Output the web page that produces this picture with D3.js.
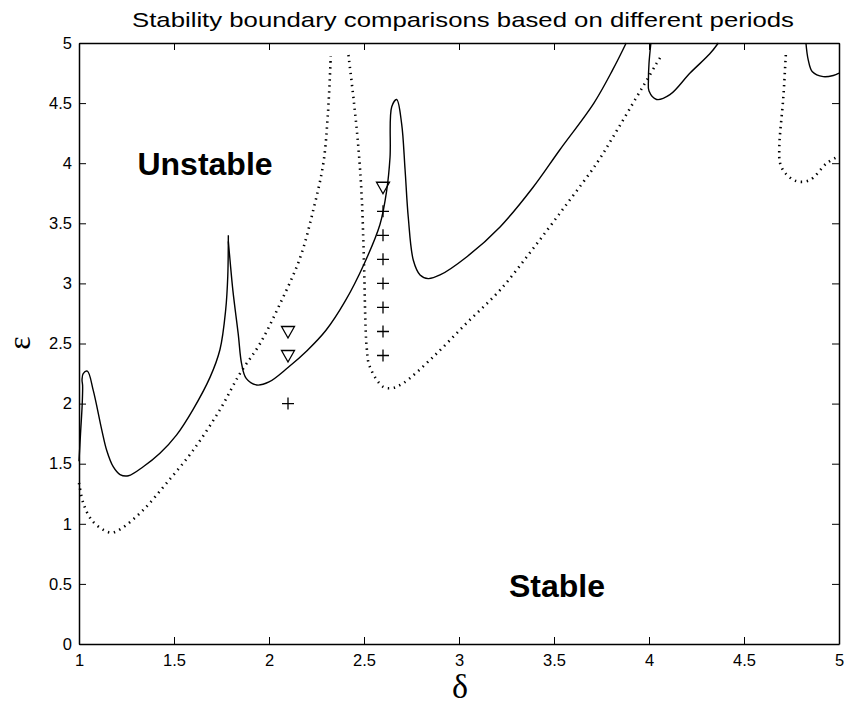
<!DOCTYPE html>
<meta charset="utf-8">
<script src="https://d3js.org/d3.v7.min.js"></script>
<style>
  body { margin: 0; background: #fff; }
  text { font-family: "Liberation Sans", Arial, sans-serif; }
</style>
<svg id="chart" width="844" height="704"></svg>
<script>
// solid boundary pieces (delta, epsilon)
const solidA = [[1.0,1.52],[1.008,1.75],[1.017,2.0],[1.019,2.15],[1.016,2.2],[1.022,2.25],[1.044,2.27],[1.075,2.11],[1.12,1.78],[1.146,1.61],[1.18,1.475],[1.216,1.41],[1.26,1.40],[1.338,1.475],[1.426,1.587],[1.514,1.74],[1.60,1.95],[1.69,2.22],[1.742,2.45],[1.772,2.78],[1.783,3.06],[1.786,3.40]];
const solidB = [[1.786,3.35],[1.795,3.19],[1.81,2.94],[1.838,2.58],[1.856,2.33],[1.88,2.21],[1.935,2.155],[2.0,2.18],[2.1,2.30],[2.2,2.44],[2.3,2.61],[2.4,2.85],[2.5,3.16],[2.584,3.49],[2.62,3.78],[2.637,4.05],[2.646,4.47],[2.672,4.53],[2.698,4.33],[2.716,3.95],[2.733,3.55],[2.76,3.19],[2.795,3.07],[2.838,3.04],[2.90,3.07],[3.04,3.22],[3.216,3.47],[3.39,3.80],[3.53,4.11],[3.71,4.50],[3.81,4.78],[3.88,5.0]];
const solidC = [[4.01,5.0],[4.0,4.83],[3.997,4.69],[4.0,4.6],[4.04,4.53],[4.11,4.57],[4.216,4.75],[4.32,4.91],[4.365,5.0]];
const solidD = [[4.826,5.0],[4.838,4.86],[4.86,4.76],[4.917,4.72],[4.97,4.73],[5.0,4.75]];

// dotted boundary pieces
const dotA = [[1.0,1.34],[1.023,1.17],[1.067,1.03],[1.128,0.95],[1.172,0.926],[1.225,0.963],[1.338,1.115],[1.46,1.337],[1.60,1.61],[1.742,1.95],[1.847,2.25],[1.953,2.50],[2.058,2.83],[2.163,3.21],[2.233,3.61],[2.286,4.0],[2.31,4.41],[2.325,4.89]];
const dotB = [[2.418,4.9],[2.444,4.55],[2.47,4.14],[2.488,3.72],[2.50,3.17],[2.514,2.47],[2.53,2.31],[2.60,2.14],[2.65,2.13],[2.707,2.17],[2.865,2.39],[3.04,2.67],[3.216,2.945],[3.39,3.29],[3.567,3.66],[3.725,4.0],[3.83,4.27],[3.935,4.55],[3.988,4.69],[4.04,4.83],[4.067,4.9]];
const dotC = [[4.72,4.9],[4.707,4.55],[4.686,4.14],[4.69,4.0],[4.716,3.92],[4.777,3.85],[4.847,3.86],[4.935,4.0],[4.988,4.05]];

// test points
const triPts = [[2.1,2.6],[2.1,2.4],[2.6,3.8]];
const plusPts = [[2.1,2.0],[2.6,3.6],[2.6,3.4],[2.6,3.2],[2.6,3.0],[2.6,2.8],[2.6,2.6],[2.6,2.4]];

const xTicks = [1,1.5,2,2.5,3,3.5,4,4.5,5];
const yTicks = [0,0.5,1,1.5,2,2.5,3,3.5,4,4.5,5];

const svg = d3.select('#chart');
const mLeft = 79, mRight = 839, mTop = 43, mBottom = 644;

const x = d3.scaleLinear().domain([1,5]).range([mLeft,mRight]);
const y = d3.scaleLinear().domain([0,5]).range([mBottom,mTop]);

const line = d3.line()
    .x(d => x(d[0]))
    .y(d => y(d[1]))
    .curve(d3.curveCatmullRom.alpha(0.5));

const g = svg.append("g");

// solid curves
[solidA, solidB, solidC, solidD].forEach(s => {
  g.append("path")
    .attr("d", line(s))
    .attr("fill", "none")
    .attr("stroke", "#000")
    .attr("stroke-width", 1.4);
});

// dotted curves
[dotA, dotB, dotC].forEach(s => {
  g.append("path")
    .attr("d", line(s))
    .attr("fill", "none")
    .attr("stroke", "#000")
    .attr("stroke-width", 2.6)
    .attr("stroke-dasharray", "1.4,4.6");
});

// markers
g.selectAll(".tri")
  .data(triPts)
  .join("path")
    .attr("class", "tri")
    .attr("transform", d => `translate(${x(d[0])},${y(d[1])})`)
    .attr("d", "M-6.5,-5 L6.5,-5 L0,6.5 Z")
    .attr("fill", "none")
    .attr("stroke", "#000")
    .attr("stroke-width", 1.3);

g.selectAll(".plus")
  .data(plusPts)
  .join("path")
    .attr("class", "plus")
    .attr("transform", d => `translate(${x(d[0])},${y(d[1])})`)
    .attr("d", "M-6,0 L6,0 M0,-6 L0,6")
    .attr("fill", "none")
    .attr("stroke", "#000")
    .attr("stroke-width", 1.3);

// axes, MATLAB style box with inward ticks
const fmt = d => String(d);
const ax = svg.append("g").attr("class", "axes");

ax.append("g")
  .attr("transform", `translate(0,${mBottom})`)
  .call(d3.axisBottom(x).tickValues(xTicks).tickFormat(fmt).tickSize(-7).tickSizeOuter(0).tickPadding(10));
ax.append("g")
  .attr("transform", `translate(0,${mTop})`)
  .call(d3.axisTop(x).tickValues(xTicks).tickFormat("").tickSize(-7).tickSizeOuter(0));
ax.append("g")
  .attr("transform", `translate(${mLeft},0)`)
  .call(d3.axisLeft(y).tickValues(yTicks).tickFormat(fmt).tickSize(-7).tickSizeOuter(0).tickPadding(7));
ax.append("g")
  .attr("transform", `translate(${mRight},0)`)
  .call(d3.axisRight(y).tickValues(yTicks).tickFormat("").tickSize(-7).tickSizeOuter(0));

ax.selectAll("path.domain").attr("stroke", "#000").attr("stroke-width", 1.5);
ax.selectAll(".tick line").attr("stroke", "#000").attr("stroke-width", 1);
ax.selectAll(".tick text")
  .attr("fill", "#000")
  .style("font-size", "16.5px")
  .style("font-family", "'Liberation Sans', Arial, sans-serif");

// title and axis labels
svg.append("text")
  .attr("x", 463).attr("y", 27)
  .attr("text-anchor", "middle")
  .attr("textLength", 662)
  .attr("lengthAdjust", "spacingAndGlyphs")
  .style("font-size", "21px")
  .text("Stability boundary comparisons based on different periods");

svg.append("text")
  .attr("x", 460).attr("y", 698)
  .attr("text-anchor", "middle")
  .style("font-family", "'Liberation Serif', 'DejaVu Serif', serif")
  .style("font-size", "34px")
  .text("δ");

svg.append("text")
  .attr("transform", "translate(30,343) rotate(-90)")
  .attr("text-anchor", "middle")
  .style("font-family", "'Liberation Serif', 'DejaVu Serif', serif")
  .style("font-size", "32px")
  .text("ε");

// region labels
svg.append("text")
  .attr("x", 205).attr("y", 175)
  .attr("text-anchor", "middle")
  .style("font-size", "32px")
  .style("font-weight", "bold")
  .text("Unstable");

svg.append("text")
  .attr("x", 557).attr("y", 597)
  .attr("text-anchor", "middle")
  .style("font-size", "32px")
  .style("font-weight", "bold")
  .text("Stable");
</script>
